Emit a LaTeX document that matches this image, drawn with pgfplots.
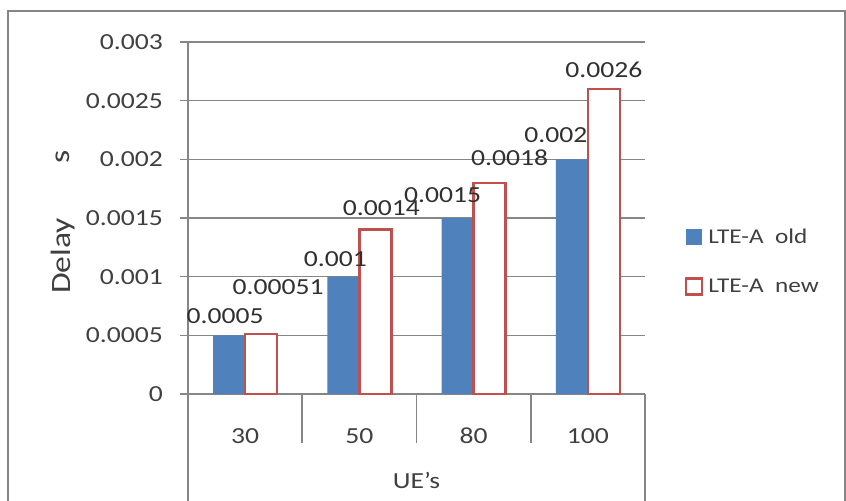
\documentclass[border=0pt]{standalone}
\usepackage{graphicx}
\usepackage{pgfplots}
\pgfplotsset{compat=1.18}
\usepackage{pgfplotstable}
\usepackage{fontspec}
\setmainfont{Carlito}[FakeStretch=1.2]
\newfontfamily\plainfont{Carlito}
\definecolor{xblue}{HTML}{4F81BD}
\definecolor{xred}{HTML}{C0504D}
\definecolor{xgrid}{HTML}{868686}
\definecolor{xtext}{HTML}{404040}
\definecolor{xlab}{HTML}{303030}

\pgfplotstableread{
x y lab dx dy
1 0.0005 0.0005 -4 19
2 0.001 0.001 -8 18
3 0.0015 0.0015 -15 23
4 0.002 0.002 -16 24
}\oldtab

\pgfplotstableread{
x y lab dx dy
1 0.00051 0.00051 17 47
2 0.0014 0.0014 6 22
3 0.0018 0.0018 20 25
4 0.0026 0.0026 0 19
}\newtab

\begin{document}
\begin{tikzpicture}
\useasboundingbox (0,0) rectangle (846bp,-501bp);
\fill[white] (0,0) rectangle (846bp,-501bp);
\draw[xgrid, line width=1.8bp] (8bp,-11bp) rectangle (845bp,-540bp);
\begin{axis}[
  at={(188bp,-394bp)}, anchor=south west,
  scale only axis, width=457bp, height=352bp,
  xmin=0.5, xmax=4.5, ymin=0, ymax=0.003,
  axis x line=bottom, axis y line=left,
  axis line style={-, draw=xgrid, line width=1.2bp},
  ybar=0pt, bar width=32bp,
  xtick={1,2,3,4}, xticklabels={30,50,80,100},
  ytick={0,0.0005,0.001,0.0015,0.002,0.0025,0.003},
  yticklabels={0,0.0005,0.001,0.0015,0.002,0.0025,0.003},
  scaled y ticks=false,
  ymajorgrids, grid style={xgrid, line width=1.2bp},
  tick align=outside, major tick length=8bp,
  ytick style={draw=xgrid, line width=1.2bp},
  xtick style={draw=none},
  ticklabel style={font=\fontsize{23bp}{27bp}\selectfont, text=xtext},
  yticklabel style={anchor=east, inner sep=0pt, xshift=-17bp},
  xticklabel style={anchor=center, inner sep=0pt, yshift=-34bp},
  legend style={at={(rel axis cs:1.087,0.376)}, anchor=west, draw=none, fill=none,
    inner sep=0pt, row sep=30bp, font=\fontsize{21bp}{25bp}\selectfont, text=xtext},
  legend cell align=left,
  clip=false,
]
\addplot[fill=xblue, draw=none,
  point meta=explicit symbolic,
  nodes near coords={\pgfplotspointmeta},
  visualization depends on={\thisrow{dx} \as \dx},
  visualization depends on={\thisrow{dy} \as \dy},
  every node near coord/.append style={anchor=center, inner sep=0pt, xshift=\dx bp, yshift=\dy bp,
    font=\fontsize{23bp}{27bp}\selectfont, text=xlab},
  legend image code/.code={\fill[xblue] (0bp,-8bp) rectangle (16bp,8bp);}]
  table[x=x, y=y, meta=lab] {\oldtab};
\addlegendentry{\hspace{3bp}LTE-A\ \ old}
\addplot[fill=white, draw=xred, line width=2.5bp,
  point meta=explicit symbolic,
  nodes near coords={\pgfplotspointmeta},
  visualization depends on={\thisrow{dx} \as \dx},
  visualization depends on={\thisrow{dy} \as \dy},
  every node near coord/.append style={anchor=center, inner sep=0pt, xshift=\dx bp, yshift=\dy bp,
    font=\fontsize{23bp}{27bp}\selectfont, text=xlab},
  legend image code/.code={\draw[xred, line width=2.5bp, fill=white] (0bp,-8bp) rectangle (16bp,8bp);}]
  table[x=x, y=y, meta=lab] {\newtab};
\addlegendentry{\hspace{3bp}LTE-A\ \ new}
\node[anchor=center, inner sep=0pt, font=\plainfont\fontsize{28bp}{32bp}\selectfont, text=xtext]
  at (rel axis cs:-0.2735,0.392) {\rotatebox{90}{\scalebox{1.2}[1]{Delay}}};
\node[anchor=center, inner sep=0pt, font=\plainfont\fontsize{28bp}{32bp}\selectfont, text=xtext]
  at (rel axis cs:-0.2735,0.673) {\rotatebox{90}{\scalebox{1.2}[1]{s}}};
\node[anchor=center, inner sep=0pt, font=\fontsize{23bp}{27bp}\selectfont, text=xtext]
  at (rel axis cs:0.5,-0.247) {UE's};
\end{axis}
\draw[xgrid, line width=1.2bp] (188bp,-394bp) -- (188bp,-540bp);
\draw[xgrid, line width=1.2bp] (645bp,-394bp) -- (645bp,-540bp);
\draw[xgrid, line width=1.2bp] (302bp,-394bp) -- (302bp,-443bp);
\draw[xgrid, line width=1.2bp] (416.5bp,-394bp) -- (416.5bp,-443bp);
\draw[xgrid, line width=1.2bp] (531bp,-394bp) -- (531bp,-443bp);
\end{tikzpicture}
\end{document}
